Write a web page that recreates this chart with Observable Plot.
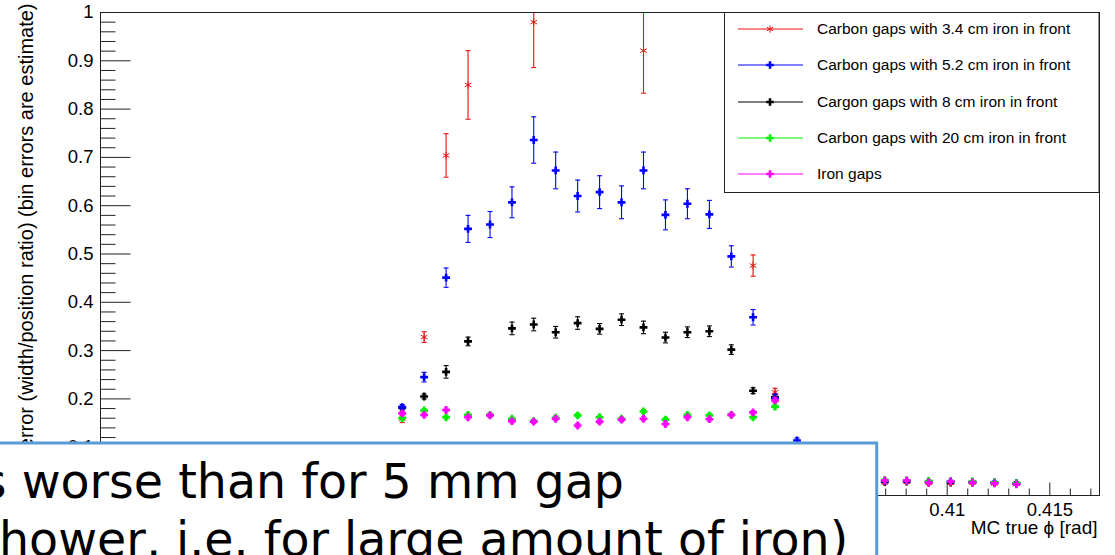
<!DOCTYPE html>
<html><head><meta charset="utf-8">
<script src="https://cdn.jsdelivr.net/npm/d3@7"></script>
<script src="https://cdn.jsdelivr.net/npm/@observablehq/plot@0.6"></script>
<style>
html,body{margin:0;padding:0;background:#fff;}
#wrap{position:relative;width:1115px;height:555px;overflow:hidden;background:#fff;}
#overlay{position:absolute;left:0;top:0;}
</style></head><body><div id="wrap"></div>
<script>
// bin centres (MC true phi, rad)
const phi = [0.38344,0.38451,0.38558,0.38665,0.38772,0.38879,0.38985,0.39092,0.39199,0.39306,0.39413,0.39520,0.39627,0.39734,0.39841,0.39948,0.40054,0.40161,0.40268,0.40375,0.40482,0.40589,0.40696,0.40803,0.40910,0.41017,0.41123,0.41230,0.41337];

const seriesNames = ["Carbon gaps with 3.4 cm iron in front","Carbon gaps with 5.2 cm iron in front","Cargon gaps with 8 cm iron in front","Carbon gaps with 20 cm iron in front","Iron gaps"];
const seriesColors = ["#ee1111","#0000ff","#000000","#00ee00","#ff00ff"];

const red = [0.159,0.328,0.704,0.850,null,null,0.980,null,null,null,null,0.921,null,null,null,null,0.476,0.214,null,null,null,null,0.027,0.028,0.026,0.026,0.027,0.025,0.024];
const redErr = [0.008,0.011,0.045,0.071,null,null,0.094,null,null,null,null,0.088,null,null,null,null,0.022,0.008,null,null,null,null,0.003,0.003,0.003,0.003,0.003,0.003,0.003];
const blue = [0.183,0.245,0.451,0.552,0.561,0.607,0.736,0.673,0.620,0.628,0.607,0.673,0.581,0.604,0.582,0.495,0.369,0.202,0.114,null,null,null,0.030,0.030,0.029,0.029,0.028,0.027,0.025];
const blueErr = [0.005,0.010,0.020,0.028,0.027,0.032,0.048,0.038,0.033,0.034,0.034,0.038,0.031,0.031,0.029,0.022,0.016,0.008,0.005,null,null,null,0.003,0.003,0.003,0.003,0.003,0.003,0.003];
const black = [0.182,0.205,0.256,0.319,null,0.346,0.354,0.338,0.357,0.345,0.364,0.348,0.327,0.338,0.340,0.302,0.217,0.204,null,null,null,null,0.028,0.029,0.027,0.027,0.027,0.026,0.025];
const blackErr = [0.005,0.005,0.013,0.009,null,0.013,0.013,0.012,0.013,0.011,0.012,0.013,0.011,0.011,0.011,0.010,0.006,0.005,null,null,null,null,0.003,0.003,0.003,0.003,0.003,0.003,0.003];
const green = [0.160,0.176,0.162,0.167,0.167,0.159,0.154,0.161,0.166,0.162,0.159,0.174,0.157,0.167,0.166,0.167,0.162,0.184,null,null,null,null,0.032,0.031,0.030,0.029,0.029,0.027,0.025];
const greenErr = [0.004,0.004,0.004,0.004,0.004,0.004,0.004,0.004,0.004,0.004,0.004,0.004,0.004,0.004,0.004,0.004,0.004,0.005,null,null,null,null,0.002,0.002,0.002,0.002,0.002,0.002,0.002];
const magenta = [0.170,0.167,0.177,0.162,0.166,0.154,0.153,0.159,0.145,0.153,0.157,0.159,0.148,0.162,0.158,0.167,0.172,0.197,null,null,null,null,0.031,0.031,0.027,0.029,0.027,0.025,0.023];
const magentaErr = [0.004,0.004,0.004,0.004,0.004,0.004,0.004,0.004,0.004,0.004,0.004,0.004,0.004,0.004,0.004,0.004,0.004,0.005,null,null,null,null,0.002,0.002,0.002,0.002,0.002,0.002,0.002];

const yMajor = [0,0.1,0.2,0.3,0.4,0.5,0.6,0.7,0.8,0.9,1];
const yMinor = [0.02,0.04,0.06,0.08,0.12,0.14,0.16,0.18,0.22,0.24,0.26,0.28,0.32,0.34,0.36,0.38,0.42,0.44,0.46,0.48,0.52,0.54,0.56,0.58,0.62,0.64,0.66,0.68,0.72,0.74,0.76,0.78,0.82,0.84,0.86,0.88,0.92,0.94,0.96,0.98];
const xMajor = [0.37,0.375,0.38,0.385,0.39,0.395,0.40,0.405,0.41,0.415];
const xMinor = [0.369,0.371,0.372,0.373,0.374,0.376,0.377,0.378,0.379,0.381,0.382,0.383,0.384,0.386,0.387,0.388,0.389,0.391,0.392,0.393,0.394,0.396,0.397,0.398,0.399,0.401,0.402,0.403,0.404,0.406,0.407,0.408,0.409,0.411,0.412,0.413,0.414,0.416,0.417];

const yTitle = "error (width/position ratio) (bin errors are estimate)";
const xTitle = "MC true \u03D5 [rad]";
const note1 = "s worse than for 5 mm gap";
const note2 = "hower, i.e. for large amount of iron)";

const allVals = [red, blue, black, green, magenta];
const allErrs = [redErr, blueErr, blackErr, greenErr, magentaErr];
const rows = [];
allVals.forEach((vals, k) => phi.forEach((x, i) => {
  if (vals[i] != null) rows.push({s: k, x, y: vals[i], lo: vals[i] - allErrs[k][i], hi: vals[i] + allErrs[k][i]});
}));

const hTick = len => ({draw(ctx){ ctx.moveTo(0,0); ctx.lineTo(len,0); }});
const vTick = len => ({draw(ctx){ ctx.moveTo(0,0); ctx.lineTo(0,-len); }});
const capSym = {draw(ctx){ ctx.moveTo(-2.5,0); ctx.lineTo(2.5,0); }};

const order = [2,0,1,3,4];
const seriesMarks = [];
for (const k of order) {
  const data = rows.filter(d => d.s === k);
  const c = seriesColors[k];
  seriesMarks.push(
    Plot.ruleX(data, {x:"x", y1:"lo", y2:"hi", stroke:c, strokeWidth:1.1, clip:true}),
    Plot.dot(data, {x:"x", y:"lo", symbol:capSym, stroke:c, fill:"none", strokeWidth:1.1, clip:true}),
    Plot.dot(data, {x:"x", y:"hi", symbol:capSym, stroke:c, fill:"none", strokeWidth:1.1, clip:true}),
    k === 0
      ? Plot.dot(data, {x:"x", y:"y", symbol:"asterisk", r:3.6, stroke:c, strokeWidth:1, fill:"none"})
      : Plot.dot(data, {x:"x", y:"y", symbol:"cross", r:3.3, fill:c, stroke:"none"})
  );
}

const fmt = d => String(+d.toFixed(3));
const chart = Plot.plot({
  width: 1115, height: 555,
  marginLeft: 100, marginRight: 16, marginTop: 12, marginBottom: 60,
  style: {fontFamily: "'Liberation Sans', Arial, sans-serif", background: "transparent", color: "#000"},
  x: {domain: [0.368738, 0.417422]},
  y: {domain: [0, 1]},
  marks: [
    Plot.axisY(yMajor, {tickSize:0, tickPadding:7, fontSize:18.5, label:null, tickFormat: fmt}),
    Plot.axisX(xMajor, {tickSize:0, tickPadding:7, fontSize:18.5, label:null, tickFormat: fmt}),
    Plot.dot(yMajor, {y: d=>d, frameAnchor:"left", symbol: hTick(30), stroke:"#222", fill:"none", strokeWidth:1}),
    Plot.dot(yMinor, {y: d=>d, frameAnchor:"left", symbol: hTick(15), stroke:"#222", fill:"none", strokeWidth:1}),
    Plot.dot(xMajor, {x: d=>d, frameAnchor:"bottom", symbol: vTick(13), stroke:"#222", fill:"none", strokeWidth:1}),
    Plot.dot(xMinor, {x: d=>d, frameAnchor:"bottom", symbol: vTick(7), stroke:"#222", fill:"none", strokeWidth:1}),
    Plot.text([yTitle], {text: d=>d, frameAnchor:"top-left", dx:-74, dy:-9, rotate:-90, textAnchor:"end", lineAnchor:"middle", fontSize:20}),
    Plot.text([xTitle], {text: d=>d, frameAnchor:"bottom-right", dx:-2, dy:32, textAnchor:"end", lineAnchor:"middle", fontSize:19}),
    ...seriesMarks,
    Plot.frame({stroke:"#222", strokeWidth:1})
  ]
});
const wrap = document.getElementById("wrap");
wrap.appendChild(chart);

// legend + overlay annotation box
const svg = d3.select(wrap).append("svg").attr("id","overlay").attr("width",1115).attr("height",555);
const lg = svg.append("g");
lg.append("rect").attr("x",724.5).attr("y",12.5).attr("width",374.5).attr("height",180).attr("fill","#fff").attr("stroke","#222").attr("stroke-width",1);
const rowsY = [29,65,102,138,174];
seriesNames.forEach((name, k) => {
  const y = rowsY[k];
  lg.append("line").attr("x1",738).attr("x2",803).attr("y1",y).attr("y2",y).attr("stroke",seriesColors[k]).attr("stroke-width",1);
  if (k === 0) {
    lg.append("path").attr("d", d3.symbol(d3.symbolAsterisk, 36)()).attr("transform",`translate(770,${y})`).attr("stroke",seriesColors[k]).attr("fill","none");
  } else {
    lg.append("path").attr("d", d3.symbol(d3.symbolCross, 32)()).attr("transform",`translate(770,${y})`).attr("fill",seriesColors[k]);
  }
  lg.append("text").attr("x",817).attr("y",y).attr("dy","0.35em").attr("font-family","'Liberation Sans', Arial, sans-serif").attr("font-size",15.5).attr("fill","#000").text(name);
});
const box = svg.append("g");
box.append("rect").attr("x",-5).attr("y",443).attr("width",881.7).attr("height",200).attr("fill","#fff").attr("stroke","#5b9bd5").attr("stroke-width",3);
box.append("text").attr("x",-18.2).attr("y",498.3).attr("font-family","'DejaVu Sans', sans-serif").attr("font-size",47.5).attr("fill","#000").text(note1);
box.append("text").attr("x",-1).attr("y",556).attr("font-family","'DejaVu Sans', sans-serif").attr("font-size",47.5).attr("fill","#000").text(note2);
</script></body></html>
